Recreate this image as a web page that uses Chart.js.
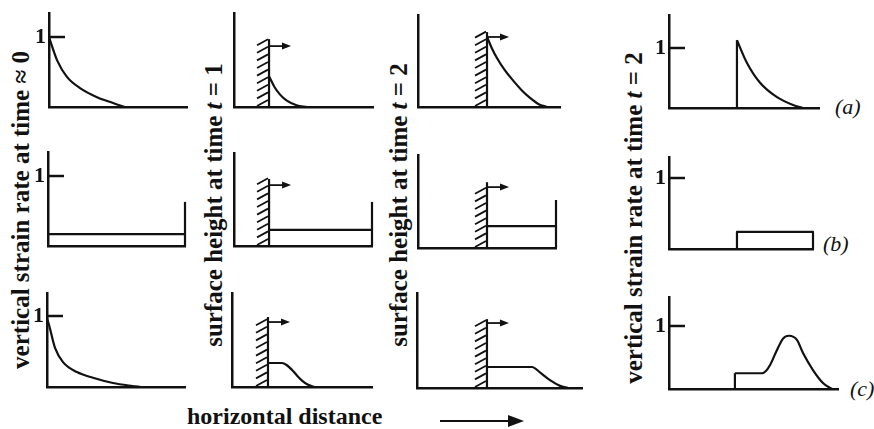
<!DOCTYPE html>
<html lang="en">
<head>
<meta charset="UTF-8" />
<title>Vertical strain rate and surface height</title>
<script src="https://cdn.jsdelivr.net/npm/chart.js"></script>
<style>
  body { margin: 0; background: #fff; }
  #page { position: relative; width: 874px; height: 429px; overflow: hidden; font-family: "Liberation Serif", "DejaVu Serif", serif; color: #111; }
  #page canvas { position: absolute; }
  .ytitle { position: absolute; white-space: nowrap; font-weight: bold; font-size: 25px; line-height: 1; transform: translate(-50%, -50%) rotate(-90deg); }
  .tag { position: absolute; font-style: italic; font-size: 22px; line-height: 1; }
  #xtitle { position: absolute; left: 187px; top: 404px; font-weight: bold; font-size: 24px; line-height: 1; white-space: nowrap; }
</style>
</head>
<body>
<div id="page">
  <div class="ytitle" style="left:20px;top:210px">vertical strain rate at time ≈ 0</div>
  <div class="ytitle" style="left:213px;top:205px">surface height at time <i>t</i> = 1</div>
  <div class="ytitle" style="left:398px;top:205px">surface height at time <i>t</i> = 2</div>
  <div class="ytitle" style="left:633px;top:218px">vertical strain rate at time <i>t</i> = 2</div>
  <div id="xtitle">horizontal distance</div>
  <svg style="position:absolute;left:438px;top:412px" width="90" height="18">
    <line x1="2" y1="9" x2="75" y2="9" stroke="#111" stroke-width="2.2"/>
    <polygon points="70,3 86,9 70,15" fill="#111"/>
  </svg>
  <div class="tag" style="left:835px;top:96px">(a)</div>
  <div class="tag" style="left:823px;top:233px">(b)</div>
  <div class="tag" style="left:850px;top:378px">(c)</div>
</div>

<script>
// x runs 0..1 along each small horizontal axis, y is measured in units of the "1" tick
const tickValues = [1];

// column 1: vertical strain rate at time ~ 0
const strain0A = [[0, 1.0], [0.02, 0.88], [0.058, 0.67], [0.13, 0.43], [0.225, 0.27], [0.348, 0.14], [0.464, 0.057], [0.55, 0]];
const strain0B = [[0, 0.17], [1, 0.17]];
const strain0BEdge = [[1, 0], [1, 0.63]];
const strain0C = [[0, 0.97], [0.014, 0.88], [0.058, 0.55], [0.116, 0.35], [0.217, 0.21], [0.333, 0.13], [0.478, 0.056], [0.62, 0.014], [0.68, 0]];

// column 2: surface height at t = 1  (wall = [x, wall top, arrow level])
const wall1A = [0.252, 0.97, 0.87];
const height1A = [[0.252, 0.44], [0.29, 0.29], [0.33, 0.18], [0.38, 0.09], [0.45, 0.025], [0.525, 0]];
const wall1B = [0.254, 0.957, 0.87];
const height1B = [[0.254, 0.23], [1, 0.23]];
const height1BEdge = [[1, 0], [1, 0.63]];
const wall1C = [0.257, 0.986, 0.915];
const height1C = [[0.257, 0.338], [0.357, 0.338], [0.39, 0.31], [0.429, 0.24], [0.465, 0.16], [0.5, 0.09], [0.54, 0.035], [0.59, 0]];

// column 3: surface height at t = 2
const wall2A = [0.486, 1.07, 1.0];
const height2A = [[0.486, 1.0], [0.52, 0.84], [0.556, 0.70], [0.61, 0.53], [0.669, 0.38], [0.73, 0.24], [0.789, 0.13], [0.85, 0.04], [0.908, 0]];
const wall2B = [0.5, 0.94, 0.87];
const height2B = [[0.5, 0.314], [1, 0.314]];
const height2BEdge = [[1, 0], [1, 0.686]];
const wall2C = [0.424, 0.97, 0.915];
const height2C = [[0.424, 0.296], [0.697, 0.296], [0.745, 0.22], [0.806, 0.11], [0.867, 0.03], [0.915, 0]];

// column 4: vertical strain rate at t = 2
const strain2AStep = [[0.453, 0], [0.453, 1.13]];
const strain2A = [[0.453, 1.13], [0.52, 0.75], [0.607, 0.42], [0.72, 0.18], [0.827, 0.05], [0.893, 0]];
const strain2B = [[0.472, 0], [0.472, 0.24], [1, 0.24], [1, 0]];
const strain2CStep = [[0.39, 0], [0.39, 0.25]];
const strain2C = [[0.39, 0.25], [0.55, 0.25], [0.575, 0.29], [0.598, 0.38], [0.639, 0.62], [0.675, 0.8], [0.71, 0.845], [0.757, 0.78], [0.793, 0.57], [0.852, 0.30], [0.911, 0.095], [0.964, 0]];

const ink = '#111';
const tickLen = 16; // px, inward tick mark
const page = document.getElementById('page');

// plot boxes on the page: [left, top, right, bottom]
const panels = [
  { box: [49, 13, 187, 107], yMax: 1.343, tick: true, lines: [[strain0A, true]] },
  { box: [234, 13, 373, 107], yMax: 1.343, wall: wall1A, lines: [[height1A, true]] },
  { box: [418, 15, 560, 107], yMax: 1.314, wall: wall2A, lines: [[height2A, true]] },
  { box: [669, 15, 819, 108], yMax: 1.55, tick: true, lines: [[strain2AStep, false], [strain2A, true]] },
  { box: [48, 152, 185, 246], yMax: 1.343, tick: true, lines: [[strain0B, false], [strain0BEdge, false]] },
  { box: [234, 153, 372, 246], yMax: 1.329, wall: wall1B, lines: [[height1B, false], [height1BEdge, false]] },
  { box: [418, 155, 556, 248], yMax: 1.329, wall: wall2B, lines: [[height2B, false], [height2BEdge, false]] },
  { box: [669, 157, 813, 249], yMax: 1.296, tick: true, lines: [[strain2B, false]] },
  { box: [47, 293, 185, 387], yMax: 1.324, tick: true, lines: [[strain0C, true]] },
  { box: [232, 293, 372, 387], yMax: 1.324, wall: wall1C, lines: [[height1C, true]] },
  { box: [417, 293, 582, 388], yMax: 1.338, wall: wall2C, lines: [[height2C, true]] },
  { box: [669, 297, 838, 389], yMax: 1.46, tick: true, lines: [[strain2CStep, false], [strain2C, true]] }
];

// hatched moving wall with its arrow
const wallPlugin = {
  id: 'wall',
  afterDatasetsDraw(chart, args, opts) {
    if (!opts.at) return;
    const { ctx, scales: { x, y } } = chart;
    const px = x.getPixelForValue(opts.at[0]);
    const base = y.getPixelForValue(0);
    const top = y.getPixelForValue(opts.at[1]);
    const ay = y.getPixelForValue(opts.at[2]);
    ctx.save();
    ctx.strokeStyle = ink;
    ctx.fillStyle = ink;
    ctx.lineWidth = 2.2;
    ctx.beginPath();
    ctx.moveTo(px, base);
    ctx.lineTo(px, top);
    ctx.stroke();
    ctx.lineWidth = 1.8;
    ctx.beginPath();
    for (let yy = base - 1; yy - 6 >= top - 1; yy -= 7.6) {
      ctx.moveTo(px - 12, yy);
      ctx.lineTo(px - 1, yy - 6);
    }
    ctx.stroke();
    ctx.beginPath();
    ctx.moveTo(px, ay);
    ctx.lineTo(px + 15, ay);
    ctx.stroke();
    ctx.beginPath();
    ctx.moveTo(px + 22, ay);
    ctx.lineTo(px + 13, ay - 3.5);
    ctx.lineTo(px + 13, ay + 3.5);
    ctx.closePath();
    ctx.fill();
    ctx.restore();
  }
};

const ML = 30, MT = 6, MR = 6, MB = 4;

panels.forEach(p => {
  const [L, T, R, B] = p.box;
  const cv = document.createElement('canvas');
  cv.width = R - L + ML + MR;
  cv.height = B - T + MT + MB;
  cv.style.left = (L - ML) + 'px';
  cv.style.top = (T - MT) + 'px';
  page.appendChild(cv);

  const style = { borderColor: ink, borderCapStyle: 'butt', borderJoinStyle: 'round', pointRadius: 0, fill: false, tension: 0, clip: false };
  const datasets = p.lines.map(([pts, smooth]) => ({
    ...style,
    data: pts.map(([x, y]) => ({ x, y })),
    borderWidth: 2.2,
    cubicInterpolationMode: smooth ? 'monotone' : 'default'
  }));
  if (p.tick) {
    // short inward tick mark at each labelled value
    tickValues.forEach(v => datasets.push({
      ...style,
      data: [{ x: 0, y: v }, { x: tickLen / (R - L), y: v }],
      borderWidth: 2.5
    }));
  }

  new Chart(cv, {
    type: 'line',
    data: { datasets },
    options: {
      responsive: false,
      animation: false,
      events: [],
      layout: { padding: { left: 0, top: MT, right: MR, bottom: MB } },
      plugins: {
        legend: { display: false },
        tooltip: { enabled: false },
        wall: { at: p.wall || null }
      },
      scales: {
        x: {
          type: 'linear', min: 0, max: 1,
          ticks: { display: false },
          grid: { display: false, drawTicks: false },
          border: { display: true, color: ink, width: 2.5 },
          afterFit: a => { a.height = 0; a.paddingLeft = 0; a.paddingRight = 0; }
        },
        y: {
          type: 'linear', min: 0, max: p.yMax,
          afterBuildTicks: a => { a.ticks = p.tick ? tickValues.map(v => ({ value: v })) : []; },
          ticks: { display: !!p.tick, padding: 3, color: ink, font: { family: 'Liberation Serif', weight: 'bold', size: 22 } },
          grid: { display: false, drawTicks: false },
          border: { display: true, color: ink, width: 2.5 },
          afterFit: a => { a.width = ML; a.paddingTop = 0; a.paddingBottom = 0; }
        }
      }
    },
    plugins: [wallPlugin]
  });
});
</script>
</body>
</html>
